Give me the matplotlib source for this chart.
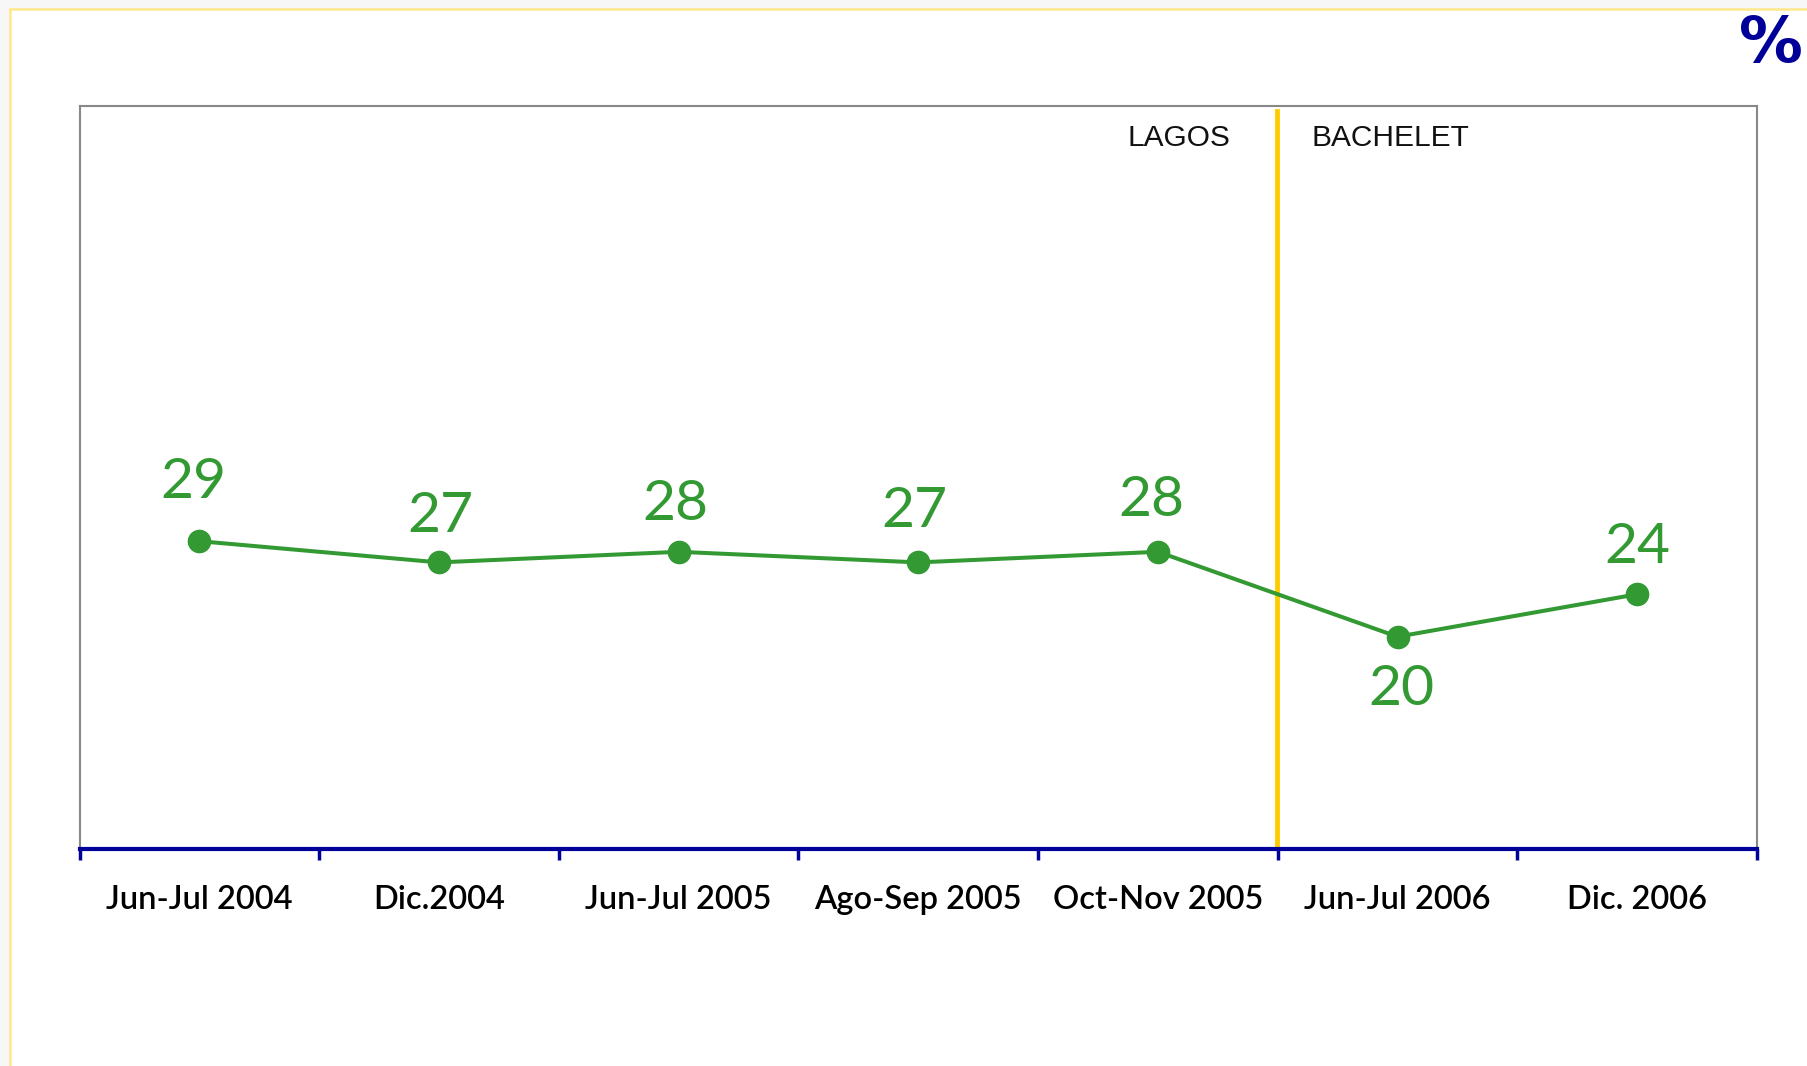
import matplotlib
matplotlib.use("Agg")
import matplotlib.pyplot as plt
from matplotlib.patches import Rectangle
import numpy as np

# data
periods = ["Jun-Jul 2004", "Dic.2004", "Jun-Jul 2005", "Ago-Sep 2005",
           "Oct-Nov 2005", "Jun-Jul 2006", "Dic. 2006"]
values = [29, 27, 28, 27, 28, 20, 24]
label_offsets = [(-4, 42), (1, 33), (-2.5, 34), (-2.5, 36.5), (-5, 37), (2.5, -38), (0, 34)]
era_labels = ["LAGOS", "BACHELET"]

GREEN = "#339933"
NAVY = "#000099"
GOLD = "#ffcc00"

fig = plt.figure(figsize=(18.08, 10.66), dpi=100)
fig.patch.set_facecolor("#f7f7f7")

# white panel with pale yellow border
panel = Rectangle((10 / 1808, -0.02), 1.05, 1 - 9 / 1066 + 0.02,
                  transform=fig.transFigure, facecolor="white",
                  edgecolor="#ffe88a", linewidth=1.8, zorder=-5)
fig.patches.append(panel)

ax = fig.add_axes([79.6 / 1808, 217 / 1066, (1757 - 79.6) / 1808, 743 / 1066])
ax.set_zorder(1)
ax.set_facecolor("white")

x = np.arange(len(values)) + 0.5
ax.plot(x, values, color=GREEN, lw=2.9, marker="o", ms=16, zorder=3, clip_on=False)

for xi, v, (dx, dy) in zip(x, values, label_offsets):
    ax.annotate(str(v), (xi, v), xytext=(dx, dy), textcoords="offset points",
                ha="center", va="center", fontsize=41, color=GREEN, family="Lato")

ax.axvline(4.995, ymin=0, ymax=0.993, color=GOLD, lw=3.5, zorder=2)
ax.text(4.804, 67.0, era_labels[0], ha="right", va="center", fontsize=21.5,
        family="Liberation Sans", color="#111111")
ax.text(5.142, 67.0, era_labels[1], ha="left", va="center", fontsize=21.5,
        family="Liberation Sans", color="#111111")

ax.set_xlim(0, len(values))
ax.set_ylim(0, 70)
ax.set_yticks([])
ax.set_xticks(range(len(values) + 1))
ax.set_xticklabels([])
ax.set_xticks(x, minor=True)
ax.set_xticklabels(periods, minor=True, fontsize=23.5, family="Lato",
                   fontweight="semibold", color="black")
ax.tick_params(axis="x", which="major", direction="out", length=8, width=2.5,
               color=NAVY)
ax.tick_params(axis="x", which="minor", length=0, pad=26)

for side in ["left", "top", "right"]:
    ax.spines[side].set_color("#888888")
    ax.spines[side].set_linewidth(1.5)
ax.spines["bottom"].set_color(NAVY)
ax.spines["bottom"].set_linewidth(3)
ax.spines["bottom"].set_zorder(4)

fig.text(1739 / 1808, 1 - 44 / 1066, "%", ha="left", va="center",
         fontsize=46, fontweight="bold", color=NAVY, family="DejaVu Sans")

fig.savefig("out.png", dpi=100, facecolor=fig.get_facecolor())
